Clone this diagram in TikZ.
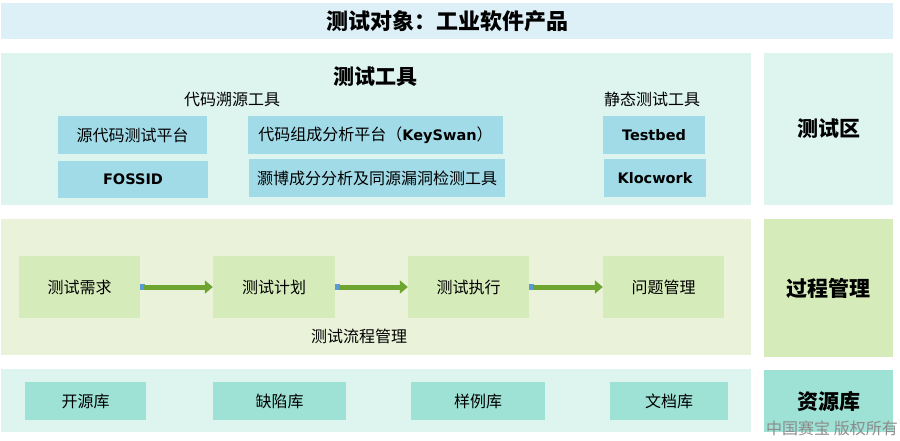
\documentclass[tikz,border=0pt]{standalone}
\usepackage{fontspec}
\setmainfont{Noto Sans CJK SC}
\newfontfamily\latfont{DejaVu Sans}
\usetikzlibrary{arrows.meta}
\definecolor{topbg}{HTML}{DDF0F7}
\definecolor{toolbg}{HTML}{DEF4EF}
\definecolor{toolbox}{HTML}{A1DBE8}
\definecolor{procbg}{HTML}{EAF2D9}
\definecolor{procbox}{HTML}{D6EBBA}
\definecolor{resbox}{HTML}{9DE2D5}
\definecolor{arrgreen}{HTML}{6EA530}
\definecolor{arrblue}{HTML}{5B9BD5}
\tikzset{
  area/.style={fill=#1, draw=none, inner sep=0pt, anchor=center},
  sbox/.style={fill=#1, draw=none, inner sep=0pt, font=\fontsize{16}{19}\selectfont, text=black},
  bigtxt/.style={font=\fontsize{21}{25}\selectfont\bfseries, inner sep=0pt},
  midtxt/.style={font=\fontsize{16}{19}\selectfont, inner sep=0pt},
  latb/.style={},
  flow/.style={draw=arrgreen, line width=5pt, -{Triangle[length=8pt,width=13pt]}},
  flowtail/.style={draw=arrblue, line width=5.5pt},
}
\newcommand{\lb}[1]{{\latfont\bfseries\fontsize{14.5}{17}\selectfont #1}}
\begin{document}
\begin{tikzpicture}[x=1pt,y=-1pt]
\useasboundingbox (0,0) rectangle (900,440);
% top band
\node[area=topbg, minimum width=892pt, minimum height=36pt, font=\fontsize{22}{26}\selectfont\bfseries] (top) at (447,21) {测试对象：工业软件产品};
% tools
\node[area=toolbg, minimum width=750pt, minimum height=152pt] (toolarea) at (376,129) {};
\node[area=toolbg, minimum width=129pt, minimum height=152pt, bigtxt] (testzone) at (828.5,129) {测试区};
\node[bigtxt] (tooltitle) at (375,77) {测试工具};
\node[midtxt] (srclabel) at (232,99) {代码溯源工具};
\node[midtxt] (statlabel) at (652,99) {静态测试工具};
\node[sbox=toolbox, minimum width=149pt, minimum height=38pt] (src) at (132.5,135) {源代码测试平台};
\node[sbox=toolbox, minimum width=150pt, minimum height=37pt] (fossid) at (133,179.5) {\lb{FOSSID}};
\node[sbox=toolbox, minimum width=255pt, minimum height=38pt] (keyswan) at (375.5,135) {代码组成分析平台（\lb{KeySwan}）};
\node[sbox=toolbox, minimum width=256pt, minimum height=38pt] (haobo) at (377,178) {灏博成分分析及同源漏洞检测工具};
\node[sbox=toolbox, minimum width=102pt, minimum height=38pt] (testbed) at (654,135) {\lb{Testbed}};
\node[sbox=toolbox, minimum width=102pt, minimum height=38pt] (klocwork) at (655,178) {\lb{Klocwork}};
% process
\node[area=procbg, minimum width=750pt, minimum height=136pt] (procarea) at (376,287) {};
\node[area=procbox, minimum width=129pt, minimum height=138pt, bigtxt] (proclabel) at (828.5,288) {过程管理};
\node[sbox=procbox, minimum width=121pt, minimum height=62pt] (p1) at (79.5,287) {测试需求};
\node[sbox=procbox, minimum width=122pt, minimum height=62pt] (p2) at (274,287) {测试计划};
\node[sbox=procbox, minimum width=121pt, minimum height=62pt] (p3) at (468.5,287) {测试执行};
\node[sbox=procbox, minimum width=121pt, minimum height=62pt] (p4) at (663.5,287) {问题管理};
\node[midtxt] (proctitle) at (359,336) {测试流程管理};
\foreach \a/\b in {p1/p2,p2/p3,p3/p4}{
  \draw[flowtail] (\a.east) -- ([xshift=5pt]\a.east);
  \draw[flow] ([xshift=4pt]\a.east) -- (\b.west);
}
% resources
\node[area=toolbg, minimum width=750pt, minimum height=63pt] (resarea) at (376,400.5) {};
\node[area=resbox, minimum width=129pt, minimum height=62pt, bigtxt] (reslabel) at (828.5,401) {资源库};
\node[sbox=resbox, minimum width=121pt, minimum height=38pt] (r1) at (85.5,401) {开源库};
\node[sbox=resbox, minimum width=133pt, minimum height=38pt] (r2) at (279.5,401) {缺陷库};
\node[sbox=resbox, minimum width=134pt, minimum height=38pt] (r3) at (478,401) {样例库};
\node[sbox=resbox, minimum width=118pt, minimum height=38pt] (r4) at (669,401) {文档库};
% watermark
\node[inner sep=0pt, text=black!45, font=\fontsize{16}{19}\selectfont] (wm) at (832,428) {中国赛宝 版权所有};
\end{tikzpicture}
\end{document}
